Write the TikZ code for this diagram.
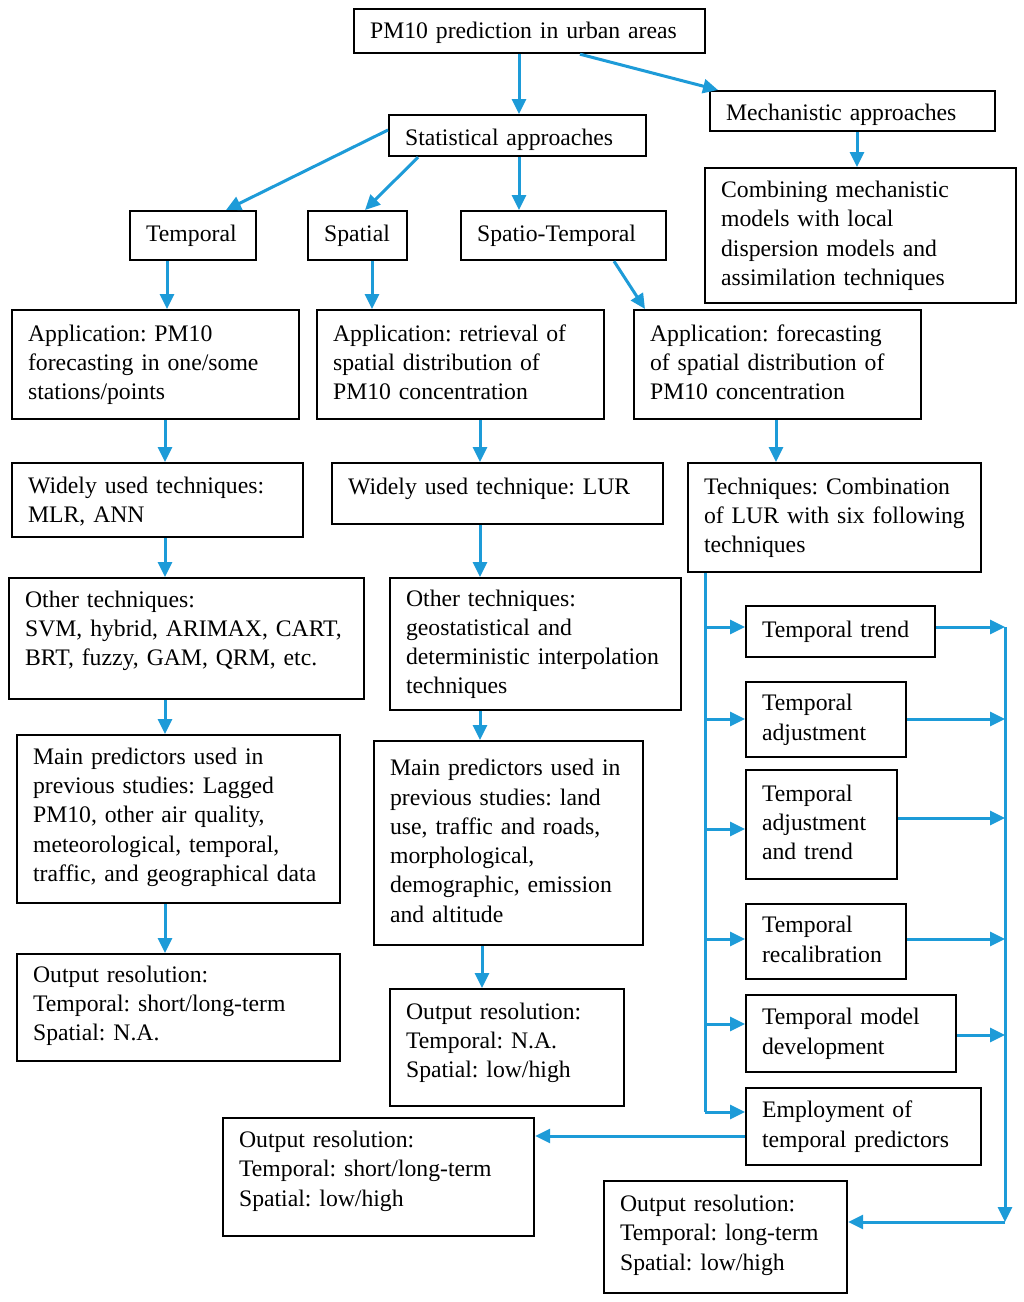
\documentclass[tikz,border=0pt]{standalone}
\usepackage{fontspec}
\setmainfont{Liberation Serif}
\usetikzlibrary{arrows.meta}
\definecolor{lblue}{RGB}{29,155,216}
\hyphenpenalty=10000
\exhyphenpenalty=10000
\frenchspacing
% optional #1: how far the text sits below (+) or above (-) the centre of the box
\newcommand\mybox[7][0]{%
  \pgfmathsetmacro\mbw{#5-#3}%
  \pgfmathsetmacro\mbh{#6-#4}%
  \pgfmathsetmacro\mbt{#5-#3-32}%
  \pgfmathsetmacro\mbr{-(#1)}%
  \node[box, minimum width=\mbw pt, minimum height=\mbh pt, text width=\mbt pt, anchor=north west] (#2) at (#3,#4)
    {\raisebox{\mbr pt}[\height][\depth]{\begin{tabular}{@{}l@{}}#7\end{tabular}}};}
\begin{document}
\begin{tikzpicture}[x=1pt,y=-1pt,
  box/.style={draw=black, line width=2.2pt, inner xsep=16pt, inner ysep=0pt, align=left,
    font={\fontsize{23.7}{29.3}\selectfont\frenchspacing}},
  ln/.style={draw=lblue, line width=3pt},
  arr/.style={ln, -{Triangle[length=15pt,width=14pt]}}]
\fill[white] (0,0) rectangle (1024,1302);
\useasboundingbox (0,0) rectangle (1024,1302);
% boxes
\mybox[2]{top}{353}{8}{704}{52}{PM10 prediction in urban areas}
\mybox[4]{mech}{709}{90}{994}{130}{Mechanistic approaches}
\mybox[4]{stat}{388}{114}{645}{155}{Statistical approaches}
\mybox{comb}{704}{167}{1015}{302}{Combining mechanistic\\models with local\\dispersion models and\\assimilation techniques}
\mybox{temp}{129}{210}{255}{259}{Temporal}
\mybox{spat}{307}{210}{406}{259}{Spatial}
\mybox{spt}{460}{210}{665}{259}{Spatio-Temporal}
\mybox{a1}{11}{309}{298}{418}{Application: PM10\\forecasting in one/some\\stations/points}
\mybox{a2}{316}{309}{603}{418}{Application: retrieval of\\spatial distribution of\\PM10 concentration}
\mybox{a3}{633}{309}{920}{418}{Application: forecasting\\of spatial distribution of\\PM10 concentration}
\mybox[2]{w1}{11}{462}{302}{536}{Widely used techniques:\\MLR, ANN}
\mybox[-5]{w2}{331}{462}{662}{523}{Widely used technique: LUR}
\mybox{w3}{687}{462}{980}{571}{Techniques: Combination\\of LUR with six following\\techniques}
\mybox[-8]{o1}{8}{577}{363}{698}{Other techniques:\\SVM, hybrid, ARIMAX, CART,\\BRT, fuzzy, GAM, QRM, etc.}
\mybox{o2}{389}{577}{680}{709}{Other techniques:\\geostatistical and\\deterministic interpolation\\techniques}
\mybox[-2]{m1}{16}{734}{339}{902}{Main predictors used in\\previous studies: Lagged\\PM10, other air quality,\\meteorological, temporal,\\traffic, and geographical data}
\mybox{m2}{373}{740}{642}{944}{Main predictors used in\\previous studies: land\\use, traffic and roads,\\morphological,\\demographic, emission\\and altitude}
\mybox[-2]{r1}{16}{953}{339}{1060}{Output resolution:\\Temporal: short/long-term\\Spatial: N.A.}
\mybox[-5]{r2}{389}{988}{623}{1105}{Output resolution:\\Temporal: N.A.\\Spatial: low/high}
\mybox[-6]{r3}{222}{1117}{533}{1235}{Output resolution:\\Temporal: short/long-term\\Spatial: low/high}
\mybox[-2]{r4}{603}{1180}{846}{1292}{Output resolution:\\Temporal: long-term\\Spatial: low/high}
\mybox{t1}{745}{605}{934}{656}{Temporal trend}
\mybox{t2}{745}{681}{905}{756}{Temporal\\adjustment}
\mybox{t3}{745}{769}{896}{878}{Temporal\\adjustment\\and trend}
\mybox{t4}{745}{903}{905}{978}{Temporal\\recalibration}
\mybox{t5}{745}{994}{955}{1071}{Temporal model\\development}
\mybox{t6}{745}{1087}{980}{1164}{Employment of\\temporal predictors}
\coordinate (busL) at (705,0);
\coordinate (busR) at (1005,0);
\coordinate (corner) at (1005,1222);
% top connectors
\draw[arr] (top.south -| 519,0) -- (stat.north -| 519,0);
\draw[arr] (top.south -| 580,0) -- (mech.north -| 718,0);
\draw[arr] (mech.south -| 857,0) -- (comb.north -| 857,0);
\draw[arr] (stat.west |- 0,130) -- (temp.north -| 226,0);
\draw[arr] (stat.south -| 418,0) -- (spat.north -| 365,0);
\draw[arr] (stat.south -| 519,0) -- (spt.north -| 519,0);
% columns
\draw[arr] (temp.south -| 167,0) -- (a1.north -| 167,0);
\draw[arr] (spat.south -| 372,0) -- (a2.north -| 372,0);
\draw[arr] (spt.south -| 614,0) -- (a3.north -| 645,0);
\draw[arr] (a1.south -| 165,0) -- (w1.north -| 165,0);
\draw[arr] (a2.south -| 480,0) -- (w2.north -| 480,0);
\draw[arr] (a3.south -| 776,0) -- (w3.north -| 776,0);
\draw[arr] (w1.south -| 165,0) -- (o1.north -| 165,0);
\draw[arr] (w2.south -| 480,0) -- (o2.north -| 480,0);
\draw[arr] (o1.south -| 165,0) -- (m1.north -| 165,0);
\draw[arr] (o2.south -| 480,0) -- (m2.north -| 480,0);
\draw[arr] (m1.south -| 165,0) -- (r1.north -| 165,0);
\draw[arr] (m2.south -| 482,0) -- (r2.north -| 482,0);
% left bus
\draw[ln] (w3.south -| busL) -- (busL |- 0,1112);
\draw[arr] (busL |- 0,627) -- (t1.west |- 0,627);
\draw[arr] (busL |- 0,719) -- (t2.west |- 0,719);
\draw[arr] (busL |- 0,829) -- (t3.west |- 0,829);
\draw[arr] (busL |- 0,939) -- (t4.west |- 0,939);
\draw[arr] (busL |- 0,1024) -- (t5.west |- 0,1024);
\draw[arr] (busL |- 0,1112) -- (t6.west |- 0,1112);
% right bus
\draw[arr] (t1.east |- 0,627) -- (busR |- 0,627);
\draw[arr] (t2.east |- 0,719) -- (busR |- 0,719);
\draw[arr] (t3.east |- 0,818) -- (busR |- 0,818);
\draw[arr] (t4.east |- 0,939) -- (busR |- 0,939);
\draw[arr] (t5.east |- 0,1035) -- (busR |- 0,1035);
\draw[arr] (busR |- 0,627) -- (corner);
\draw[arr] (corner) -- (r4.east |- corner);
\draw[arr] (t6.west |- 0,1136) -- (r3.east |- 0,1136);
\end{tikzpicture}
\end{document}
